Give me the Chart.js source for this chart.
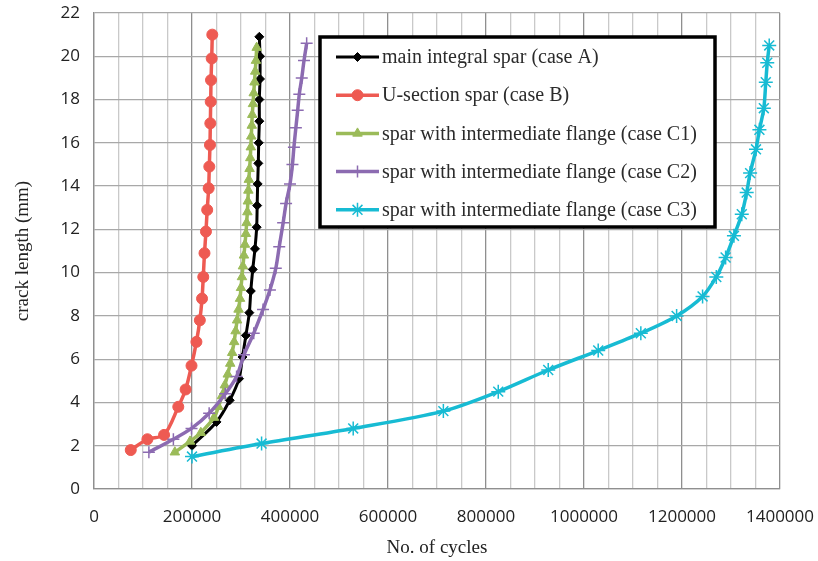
<!DOCTYPE html>
<html>
<head>
<meta charset="utf-8">
<script src="https://cdn.jsdelivr.net/npm/chart.js@4.4.1/dist/chart.umd.min.js"></script>
<style>
  html, body { margin: 0; padding: 0; background: #fff; }
  #wrap { width: 818px; height: 561px; }
</style>
</head>
<body>
<div id="wrap"><canvas id="crackChart" width="818" height="561"></canvas></div>
<script>
// crack length (mm) vs number of cycles
const seriesNames = [
  "main integral spar (case A)",
  "U-section spar (case B)",
  "spar with intermediate flange (case C1)",
  "spar with intermediate flange (case C2)",
  "spar with intermediate flange (case C3)"
];

const cycA = [200000, 250000, 277000, 296000, 303000, 310000, 317000, 320000, 324000, 328500,
              332000, 333000, 334000, 335300, 336100, 337400, 337400, 338800, 338800, 337400];
const lenA = [2.0, 3.1, 4.1, 5.1, 6.1, 7.1, 8.15, 9.15, 10.15, 11.1,
              12.1, 13.1, 14.1, 15.05, 16.0, 17.0, 18.0, 18.95, 20.0, 20.9];

const cycB = [75000, 109000, 143000, 172000, 187000, 199000, 209000, 216000, 220500, 223000, 225500,
              228500, 231000, 234000, 235300, 236700, 237400, 238200, 238800, 240200, 241400];
const lenB = [1.8, 2.3, 2.5, 3.8, 4.6, 5.7, 6.8, 7.8, 8.8, 9.8, 10.9,
              11.9, 12.9, 13.9, 14.9, 15.9, 16.9, 17.9, 18.9, 19.9, 21.0];

const cycC1 = [165000, 196000, 218000, 245000, 254000, 261000, 267000, 273000, 278000, 282000,
               286000, 289000, 292000, 295000, 298000, 300000, 302000, 304000, 306000, 308000,
               310000, 311500, 313000, 314000, 315000, 316000, 317500, 319000, 320000, 321000,
               322000, 323000, 324500, 326000, 327500, 329000, 330500, 332000];
const lenC1 = [1.7, 2.2, 2.6, 3.3, 3.8, 4.3, 4.8, 5.3, 5.8, 6.3,
               6.8, 7.3, 7.8, 8.3, 8.8, 9.3, 9.8, 10.3, 10.8, 11.3,
               11.8, 12.3, 12.8, 13.3, 13.8, 14.3, 14.8, 15.3, 15.8, 16.3,
               16.8, 17.3, 17.8, 18.3, 18.8, 19.3, 19.8, 20.4];

const cycC2 = [112000, 162000, 199000, 235000, 268000, 291000, 306000, 326000, 345000, 359000, 371000,
               378000, 386000, 392000, 400000, 405000, 408000, 412000, 415700, 419000, 424000, 428600, 434000];
const lenC2 = [1.7, 2.3, 2.8, 3.5, 4.4, 5.2, 6.2, 7.2, 8.3, 9.2, 10.2,
               11.2, 12.3, 13.2, 14.1, 15.0, 15.8, 16.7, 17.5, 18.25, 19.0, 19.8, 20.6];

const cycC3 = [200000, 342000, 529000, 713000, 825000, 927000, 1029000, 1116000, 1189000, 1242000, 1270000,
               1289000, 1306000, 1322000, 1332000, 1339000, 1351000, 1358000, 1367000, 1371000, 1374000, 1378000];
const lenC3 = [1.5, 2.1, 2.8, 3.6, 4.5, 5.5, 6.4, 7.2, 8.0, 8.9, 9.8,
               10.7, 11.7, 12.7, 13.7, 14.6, 15.7, 16.6, 17.6, 18.8, 19.7, 20.5];

const xTickLabelStep = 200000;

function pts(xs, ys) {
  return xs.map((x, i) => ({ x: x, y: ys[i] }));
}

// boxed legend drawn over the plot, Excel style (line + marker + text)
const boxLegend = {
  id: 'boxLegend',
  afterDraw(chart, args, opts) {
    const ctx = chart.ctx;
    const h = Chart.helpers;
    ctx.save();
    ctx.fillStyle = '#fff';
    ctx.fillRect(opts.left, opts.top, opts.width, opts.height);
    ctx.lineWidth = 3.5;
    ctx.strokeStyle = '#000';
    ctx.strokeRect(opts.left, opts.top, opts.width, opts.height);

    ctx.font = opts.font;
    ctx.textBaseline = 'middle';
    chart.data.datasets.forEach((ds, i) => {
      const y = opts.top + opts.firstRow + i * opts.rowGap;
      const x0 = opts.left + opts.lineStart;
      const x1 = x0 + opts.lineLen;
      ctx.strokeStyle = ds.borderColor;
      ctx.lineWidth = ds.borderWidth;
      ctx.beginPath();
      ctx.moveTo(x0, y);
      ctx.lineTo(x1, y);
      ctx.stroke();
      ctx.fillStyle = ds.pointBackgroundColor;
      ctx.strokeStyle = ds.pointBorderColor;
      ctx.lineWidth = ds.pointBorderWidth;
      if (h && h.drawPoint) {
        h.drawPoint(ctx, { pointStyle: ds.pointStyle, rotation: 0, radius: ds.pointRadius, borderWidth: ds.pointBorderWidth }, (x0 + x1) / 2, y);
      }
      ctx.fillStyle = '#2b2b2b';
      ctx.fillText(ds.label, x1 + 3, y + 1);
    });
    ctx.restore();
  }
};

const ctx = document.getElementById('crackChart').getContext('2d');

new Chart(ctx, {
  type: 'scatter',
  data: {
    datasets: [
      {
        label: seriesNames[0], data: pts(cycA, lenA), order: 5,
        borderColor: '#000000', borderWidth: 3,
        pointStyle: 'rectRot', pointRadius: 4.5,
        pointBackgroundColor: '#000000', pointBorderColor: '#000000', pointBorderWidth: 1
      },
      {
        label: seriesNames[1], data: pts(cycB, lenB), order: 4,
        borderColor: '#ee5a52', borderWidth: 3.5,
        pointStyle: 'circle', pointRadius: 5.5,
        pointBackgroundColor: '#ee5a52', pointBorderColor: '#ee5a52', pointBorderWidth: 1
      },
      {
        label: seriesNames[2], data: pts(cycC1, lenC1), order: 3,
        borderColor: '#9bbb59', borderWidth: 3.5,
        pointStyle: 'triangle', pointRadius: 5.5,
        pointBackgroundColor: '#9bbb59', pointBorderColor: '#9bbb59', pointBorderWidth: 1
      },
      {
        label: seriesNames[3], data: pts(cycC2, lenC2), order: 2,
        borderColor: '#8c6bb1', borderWidth: 3.5,
        pointStyle: 'cross', pointRadius: 6,
        pointBackgroundColor: '#8c6bb1', pointBorderColor: '#8c6bb1', pointBorderWidth: 1.5
      },
      {
        label: seriesNames[4], data: pts(cycC3, lenC3), order: 1,
        borderColor: '#17bbd3', borderWidth: 3.5,
        pointStyle: 'star', pointRadius: 7,
        pointBackgroundColor: '#17bbd3', pointBorderColor: '#17bbd3', pointBorderWidth: 1.5
      }
    ]
  },
  options: {
    responsive: false,
    animation: false,
    showLine: true,
    elements: { line: { tension: 0.3 } },
    layout: { padding: { left: 12, top: 13, right: 38, bottom: 2 } },
    plugins: {
      legend: { display: false },
      tooltip: { enabled: false },
      boxLegend: {
        left: 320, top: 37, width: 395, height: 190,
        firstRow: 20, rowGap: 38.2, lineStart: 16, lineLen: 43,
        font: '20px "Liberation Serif", "Times New Roman", serif'
      }
    },
    scales: {
      x: {
        type: 'linear', min: 0, max: 1400000,
        afterFit: s => { s.height = 70; s.paddingLeft = 0; s.paddingRight = 0; },
        ticks: {
          stepSize: 50000, autoSkip: false, maxRotation: 0, padding: 18,
          color: '#222', font: { family: '"Open Sans", sans-serif', size: 17 },
          callback: v => (v % xTickLabelStep === 0 ? String(v) : '')
        },
        grid: {
          drawTicks: false,
          lineWidth: 1.3,
          color: c => (c.tick && c.tick.value % xTickLabelStep === 0 ? '#8f8f8f' : '#c9c9c9')
        },
        border: { color: '#8f8f8f', width: 1.3 },
        title: {
          display: true, text: 'No. of cycles', color: '#222',
          font: { family: '"Liberation Serif", "Times New Roman", serif', size: 19 },
          padding: { top: 6, bottom: 0 }
        }
      },
      y: {
        type: 'linear', min: 0, max: 22,
        afterFit: s => { s.width = 82; s.paddingTop = 0; s.paddingBottom = 0; },
        ticks: {
          stepSize: 2, padding: 14,
          color: '#222', font: { family: '"Open Sans", sans-serif', size: 17 }
        },
        grid: { drawTicks: false, lineWidth: 1.3, color: '#a8a8a8' },
        border: { color: '#8f8f8f', width: 1.3 },
        title: {
          display: true, text: 'crack length (mm)', color: '#222',
          font: { family: '"Liberation Serif", "Times New Roman", serif', size: 19 },
          padding: { top: 0, bottom: 0 }
        }
      }
    }
  },
  plugins: [boxLegend]
});
</script>
</body>
</html>
